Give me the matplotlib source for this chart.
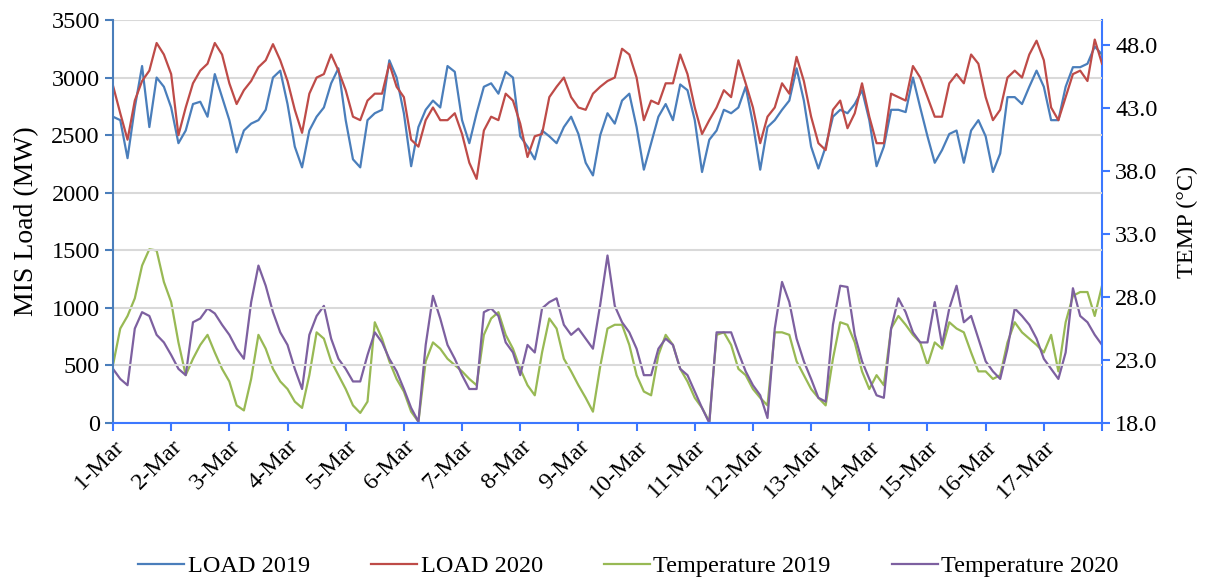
import numpy as np
import pandas as pd
import matplotlib.pyplot as plt

# === data (3-hourly readings, 1-Mar 00:00 to 18-Mar 00:00) ===
load_2019 = [
    2660, 2630, 2300, 2740, 3100, 2570, 3000, 2920,
    2740, 2430, 2540, 2770, 2790, 2660, 3030, 2830,
    2630, 2350, 2540, 2600, 2630, 2720, 3000, 3060,
    2770, 2400, 2220, 2540, 2660, 2740, 2950, 3080,
    2630, 2290, 2220, 2630, 2690, 2720, 3150, 3000,
    2690, 2230, 2570, 2720, 2800, 2740, 3100, 3050,
    2630, 2430, 2690, 2920, 2950, 2860, 3050, 3000,
    2490, 2400, 2290, 2540, 2490, 2430, 2570, 2660,
    2510, 2260, 2150, 2500, 2690, 2600, 2800, 2860,
    2570, 2200, 2430, 2660, 2770, 2630, 2940, 2890,
    2630, 2180, 2460, 2540, 2720, 2690, 2740, 2920,
    2600, 2200, 2570, 2630, 2720, 2800, 3080, 2800,
    2400, 2210, 2400, 2660, 2720, 2690, 2770, 2890,
    2630, 2230, 2400, 2720, 2720, 2700, 3000, 2740,
    2490, 2260, 2370, 2510, 2540, 2260, 2540, 2630,
    2490, 2180, 2340, 2830, 2830, 2770, 2920, 3060,
    2920, 2630, 2630, 2920, 3090, 3090, 3120, 3270,
    3200,
]
load_2020 = [
    2930, 2690, 2460, 2800, 2970, 3060, 3300, 3200,
    3030, 2500, 2740, 2950, 3060, 3120, 3300, 3200,
    2950, 2770, 2890, 2970, 3090, 3150, 3290, 3150,
    2970, 2720, 2520, 2860, 3000, 3030, 3200, 3060,
    2890, 2660, 2630, 2800, 2860, 2860, 3120, 2920,
    2830, 2460, 2400, 2630, 2740, 2630, 2630, 2690,
    2510, 2260, 2120, 2540, 2660, 2630, 2860, 2800,
    2600, 2310, 2490, 2510, 2830, 2920, 3000, 2830,
    2740, 2720, 2860, 2920, 2970, 3000, 3250, 3200,
    3000, 2630, 2800, 2770, 2950, 2950, 3200, 3030,
    2740, 2510, 2630, 2740, 2890, 2830, 3150, 2950,
    2740, 2430, 2660, 2740, 2950, 2860, 3180, 2970,
    2660, 2430, 2370, 2720, 2800, 2560, 2690, 2950,
    2660, 2430, 2430, 2860, 2830, 2800, 3100, 3000,
    2830, 2660, 2660, 2950, 3030, 2950, 3200, 3120,
    2830, 2630, 2720, 3000, 3060, 3000, 3200, 3320,
    3150, 2740, 2630, 2830, 3030, 3060, 2970, 3330,
    3120,
]
temp_2019 = [
    22.6, 25.5, 26.5, 27.9, 30.5, 31.8, 31.7, 29.2,
    27.6, 24.4, 21.8, 23.1, 24.2, 25.0, 23.6, 22.3,
    21.3, 19.4, 19.0, 21.5, 25.0, 23.9, 22.3, 21.3,
    20.7, 19.7, 19.2, 21.8, 25.2, 24.7, 22.9, 21.8,
    20.7, 19.4, 18.8, 19.7, 26.0, 24.7, 22.9, 21.5,
    20.5, 18.9, 18.1, 22.9, 24.4, 23.9, 23.1, 22.6,
    22.1, 21.5, 21.0, 25.0, 26.3, 26.8, 25.0, 23.9,
    22.3, 21.0, 20.2, 23.6, 26.3, 25.5, 23.1, 22.1,
    21.0, 20.0, 18.9, 22.5, 25.5, 25.8, 25.8, 24.2,
    21.8, 20.5, 20.2, 23.4, 25.0, 24.2, 22.3, 21.3,
    20.0, 19.2, 18.1, 25.0, 25.2, 24.2, 22.3, 21.8,
    20.7, 20.0, 19.4, 25.2, 25.2, 25.0, 22.9, 21.8,
    20.7, 20.0, 19.4, 23.1, 26.0, 25.8, 24.4, 22.1,
    20.7, 21.8, 21.0, 25.5, 26.5, 25.8, 25.0, 24.4,
    22.6, 24.4, 23.9, 26.0, 25.5, 25.2, 23.6, 22.1,
    22.1, 21.5, 21.8, 24.4, 26.0, 25.2, 24.7, 24.2,
    23.6, 25.0, 22.1, 26.0, 28.1, 28.4, 28.4, 26.5,
    28.9,
]
temp_2020 = [
    22.3, 21.5, 21.0, 25.5, 26.8, 26.5, 25.0, 24.4,
    23.4, 22.3, 21.8, 26.0, 26.3, 27.1, 26.7, 25.8,
    25.0, 23.9, 23.1, 27.6, 30.5, 28.9, 26.8, 25.2,
    24.2, 22.3, 20.7, 25.0, 26.5, 27.3, 24.7, 23.1,
    22.3, 21.3, 21.3, 23.4, 25.2, 24.4, 23.1, 22.1,
    20.7, 19.2, 18.1, 24.2, 28.1, 26.3, 24.2, 23.1,
    21.8, 20.7, 20.7, 26.8, 27.1, 26.5, 24.4, 23.6,
    21.8, 24.2, 23.6, 27.1, 27.6, 27.9, 25.8, 25.0,
    25.5, 24.7, 23.9, 27.4, 31.3, 27.3, 26.0, 25.2,
    23.9, 21.8, 21.8, 23.9, 24.7, 24.2, 22.3, 21.8,
    20.5, 19.2, 18.0, 25.2, 25.2, 25.2, 23.6, 22.1,
    21.0, 20.2, 18.4, 25.5, 29.2, 27.6, 24.7, 22.9,
    21.5, 20.0, 19.7, 25.8, 28.9, 28.8, 25.0, 22.9,
    21.5, 20.2, 20.0, 25.5, 27.9, 26.8, 25.2, 24.4,
    24.4, 27.6, 24.2, 27.1, 28.9, 26.0, 26.5, 24.7,
    22.9, 22.1, 21.5, 23.9, 27.1, 26.5, 25.8, 24.7,
    23.1, 22.3, 21.5, 23.6, 28.7, 26.5, 26.0, 25.0,
    24.2,
]
times = pd.date_range("2020-03-01", periods=len(load_2019), freq="3h")
day_ticks = pd.date_range("2020-03-01", "2020-03-18", freq="D")
day_labels = [f"{d.day}-Mar" for d in day_ticks[:-1]] + [""]

# === plot ===
plt.rcParams['font.family'] = ['Liberation Serif', 'DejaVu Serif']
fs = 17.5
axis_blue = '#3C78FF'

fig = plt.figure(figsize=(12.11, 5.79), dpi=100)
ax = fig.add_axes([0.0933, 0.2694, 0.8167, 0.6961])
ax2 = ax.twinx()

l1, = ax.plot(times, load_2019, color='#4A7EBB', lw=1.6, label='LOAD 2019')
l2, = ax.plot(times, load_2020, color='#BE4B48', lw=1.6, label='LOAD 2020')
l3, = ax2.plot(times, temp_2019, color='#98B954', lw=1.6, label='Temperature 2019')
l4, = ax2.plot(times, temp_2020, color='#7D60A0', lw=1.6, label='Temperature 2020')

ax.set_xlim(day_ticks[0], day_ticks[-1])
ax.set_ylim(0, 3500)
ax.set_yticks(np.arange(0, 3501, 500))
ax2.set_ylim(18, 50)
ax2.set_yticks(np.arange(18, 49, 5))
ax2.yaxis.set_major_formatter(plt.FormatStrFormatter('%.1f'))

ax.set_xticks(day_ticks)
ax.set_xticklabels(day_labels, rotation=45, ha='right', rotation_mode='anchor')

ax.grid(axis='y', color='#D9D9D9', lw=1.5)
ax.set_axisbelow(True)
ax2.set_zorder(ax.get_zorder() - 1)
ax.patch.set_visible(False)

ax.spines[['top', 'right']].set_visible(False)
ax2.spines[['top', 'left', 'bottom']].set_visible(False)
ax.spines['left'].set_color('#4A7EBB')
ax.spines['bottom'].set_color(axis_blue)
ax2.spines['right'].set_color(axis_blue)
ax.spines[['left', 'bottom']].set_linewidth(1.5)
ax2.spines['right'].set_linewidth(1.5)

ax.tick_params(axis='x', colors=axis_blue, length=6, width=1.5, labelcolor='black', labelsize=fs)
ax.tick_params(axis='y', colors='#4A7EBB', length=6, width=1.5, labelcolor='black', labelsize=fs)
ax2.tick_params(axis='y', colors=axis_blue, length=6, width=1.5, labelcolor='black', labelsize=fs)

ax.set_ylabel("MIS Load (MW)", fontsize=20, labelpad=9)
ax2.set_ylabel("TEMP (°C)", fontsize=fs, labelpad=14)

fig.legend(handles=[l1, l2, l3, l4], loc='lower center', bbox_to_anchor=(0.519, -0.035),
           ncol=4, frameon=False, fontsize=fs, handlelength=1.9, columnspacing=2.5,
           handletextpad=0.15)

fig.savefig("out.png", dpi=100)
